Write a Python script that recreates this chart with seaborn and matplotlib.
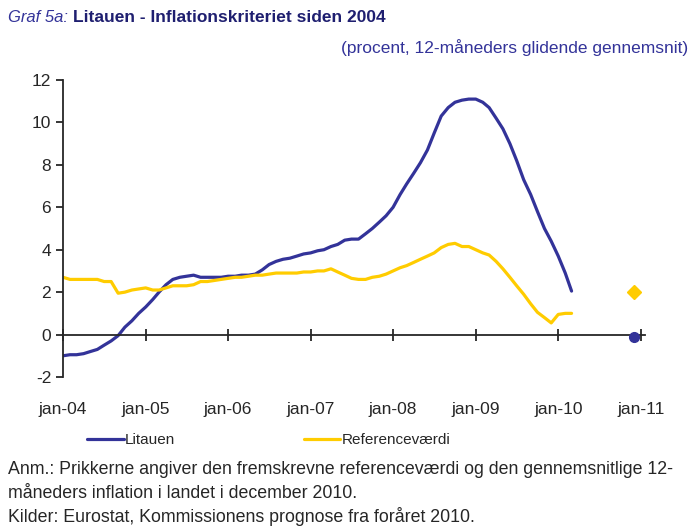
import pandas as pd
import numpy as np
import matplotlib.pyplot as plt
import seaborn as sns

sns.set_style("ticks")
plt.rcParams["font.family"] = ["Liberation Sans", "DejaVu Sans"]
plt.rcParams["axes.unicode_minus"] = False

BLUE = "#333399"
YELLOW = "#FFCC00"

# måneder jan-04 .. mar-10
months = pd.date_range("2004-01-01", periods=75, freq="MS")

litauen = [-1.0, -0.95, -0.95, -0.9, -0.8, -0.7, -0.5, -0.3, -0.05, 0.35,
           0.65, 1.0, 1.3, 1.65, 2.0, 2.35, 2.6, 2.7, 2.75, 2.8,
           2.7, 2.7, 2.7, 2.7, 2.75, 2.75, 2.8, 2.8, 2.85, 3.05,
           3.3, 3.45, 3.55, 3.6, 3.7, 3.8, 3.85, 3.95, 4.0, 4.15,
           4.25, 4.45, 4.5, 4.5, 4.75, 5.0, 5.3, 5.6, 6.0, 6.6,
           7.1, 7.6, 8.1, 8.7, 9.5, 10.3, 10.7, 10.95, 11.05, 11.1,
           11.1, 10.95, 10.7, 10.2, 9.7, 9.0, 8.2, 7.3, 6.6, 5.8,
           5.0, 4.4, 3.7, 2.9, 2.05]

reference = [2.7, 2.6, 2.6, 2.6, 2.6, 2.6, 2.5, 2.5, 1.95, 2.0,
             2.1, 2.15, 2.2, 2.1, 2.1, 2.2, 2.3, 2.3, 2.3, 2.35,
             2.5, 2.5, 2.55, 2.6, 2.65, 2.7, 2.7, 2.75, 2.8, 2.8,
             2.85, 2.9, 2.9, 2.9, 2.9, 2.95, 2.95, 3.0, 3.0, 3.1,
             2.95, 2.8, 2.65, 2.6, 2.6, 2.7, 2.75, 2.85, 3.0, 3.15,
             3.25, 3.4, 3.55, 3.7, 3.85, 4.1, 4.25, 4.3, 4.15, 4.15,
             4.0, 3.85, 3.75, 3.45, 3.1, 2.7, 2.3, 1.9, 1.45, 1.05,
             0.8, 0.55, 0.95, 1.0, 1.0]

# prikker: december 2010
dot_date = pd.Timestamp("2010-12-01")
dot_ref = 2.0
dot_lit = -0.1

year_ticks = pd.date_range("2004-01-01", "2011-01-01", freq="YS")
tick_labels = ["jan-04", "jan-05", "jan-06", "jan-07", "jan-08", "jan-09", "jan-10", "jan-11"]

df = pd.DataFrame({"dato": months, "Litauen": litauen, "Referenceværdi": reference})
long = df.melt(id_vars="dato", var_name="serie", value_name="værdi")

fig = plt.figure(figsize=(6.93, 5.29), dpi=100)
ax = fig.add_axes([63 / 693, 1 - 377 / 529, (645 - 63) / 693, (377 - 80) / 529])

sns.lineplot(data=long, x="dato", y="værdi", hue="serie",
             palette={"Litauen": BLUE, "Referenceværdi": YELLOW},
             linewidth=2.3, ax=ax, legend=False)
ax.plot([dot_date], [dot_ref], marker="D", color=YELLOW, markersize=7, linestyle="none")
ax.plot([dot_date], [dot_lit], marker="o", color=BLUE, markersize=7, linestyle="none",
        clip_on=False, zorder=5)

ax.set_xlim(pd.Timestamp("2004-01-01"), pd.Timestamp("2011-01-20"))
ax.set_ylim(-2, 12)
ax.set_yticks(np.arange(-2, 13, 2))
ax.set_xticks(year_ticks)
ax.set_xticklabels(tick_labels)
ax.set_xlabel("")
ax.set_ylabel("")

for s in ["top", "right"]:
    ax.spines[s].set_visible(False)
ax.spines["bottom"].set_position(("data", 0))
ax.spines["bottom"].set_linewidth(1.3)
ax.spines["left"].set_linewidth(1.3)
ax.tick_params(axis="x", direction="inout", length=9, width=1.3, pad=44, labelsize=12.5)
ax.tick_params(axis="y", direction="out", length=5, width=1.3, labelsize=12.5)

# titel
t1 = fig.text(8 / 693, 1 - 18 / 529, "Graf 5a: ", color=BLUE, fontsize=12,
              style="italic", va="center", ha="left")
fig.canvas.draw()
bb = t1.get_window_extent()
fig.text(bb.x1 / 693, 1 - 18 / 529, "Litauen - Inflationskriteriet siden 2004",
         color="#1F1F70", fontsize=12.5, fontweight="bold", va="center", ha="left")
fig.text(688 / 693, 1 - 48 / 529, "(procent, 12-måneders glidende gennemsnit)",
         color=BLUE, fontsize=12.5, va="center", ha="right")

# forklaring
handles = [plt.Line2D([], [], color=BLUE, linewidth=2.3),
           plt.Line2D([], [], color=YELLOW, linewidth=2.3)]
fig.legend(handles, ["Litauen", "Referenceværdi"], loc="center left",
           bbox_to_anchor=(87 / 693, 1 - 440 / 529), ncol=2, frameon=False,
           fontsize=11, handlelength=2.4, handletextpad=0.1, columnspacing=8.4,
           borderpad=0, borderaxespad=0)

notes = ["Anm.: Prikkerne angiver den fremskrevne referenceværdi og den gennemsnitlige 12-",
         "måneders inflation i landet i december 2010.",
         "Kilder: Eurostat, Kommissionens prognose fra foråret 2010."]
for i, line in enumerate(notes):
    fig.text(8 / 693, 1 - (470 + 23.5 * i) / 529, line, fontsize=12.8,
             va="center", ha="left")

fig.savefig("out.png", dpi=100)
